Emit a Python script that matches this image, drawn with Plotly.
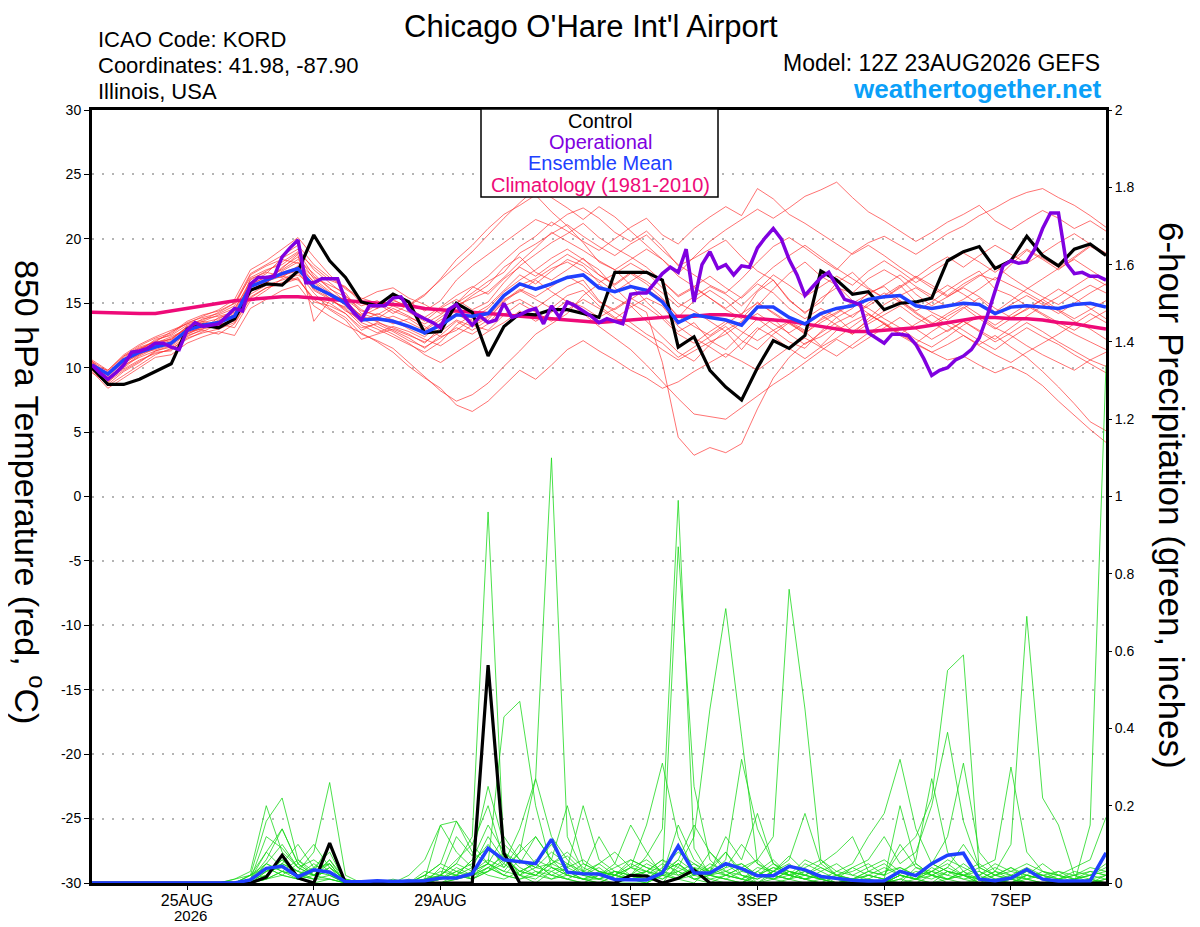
import pandas as pd
import plotly.graph_objects as go

# =====================================================================
# 1. DATA (read off the GEFS plume for KORD, 12Z 23AUG2026)
# =====================================================================
run_start = "2026-08-23 12:00"
times = pd.date_range(run_start, periods=65, freq="6h")      # ensemble, 6-hourly
op_times = pd.date_range(run_start, periods=129, freq="3h")  # operational, 3-hourly

tick_dates = ["2026-08-25", "2026-08-27", "2026-08-29", "2026-09-01",
              "2026-09-03", "2026-09-05", "2026-09-07"]
tick_labels = ["25AUG", "27AUG", "29AUG", "1SEP", "3SEP", "5SEP", "7SEP"]
year_label = "2026"
temp_ticks = [-30, -25, -20, -15, -10, -5, 0, 5, 10, 15, 20, 25, 30]
temp_tick_labels = ["-30", "-25", "-20", "-15", "-10", "-5", "0", "5", "10", "15", "20", "25", "30"]
precip_ticks = [0, 0.2, 0.4, 0.6, 0.8, 1.0, 1.2, 1.4, 1.6, 1.8, 2.0]
precip_tick_labels = ["0", "0.2", "0.4", "0.6", "0.8", "1", "1.2", "1.4", "1.6", "1.8", "2"]

# 850 hPa temperature (C)
control_temp = [10.0, 8.7, 8.7, 9.1, 9.7, 10.3, 13.0, 13.3, 13.1, 13.8,
                16.0, 16.5, 16.4, 17.5, 20.3, 18.3, 17.0, 15.1, 14.8, 15.7,
                15.1, 12.7, 12.8, 15.0, 14.3, 10.9, 13.2, 14.2, 14.1, 14.5,
                14.5, 14.2, 13.9, 17.4, 17.4, 17.4, 16.8, 11.6, 12.4, 9.8,
                8.5, 7.5, 10.0, 12.1, 11.5, 12.5, 17.5, 16.8, 15.7, 15.9,
                14.5, 15.0, 15.1, 15.4, 18.3, 19.0, 19.4, 17.7, 18.3, 20.2,
                18.7, 17.9, 19.2, 19.6, 18.7]
mean_temp = [10.2, 9.5, 10.6, 11.2, 11.6, 11.9, 12.9, 13.3, 13.5, 14.0,
             16.3, 16.8, 17.3, 17.7, 16.3, 15.7, 15.0, 13.7, 13.8, 13.6,
             13.2, 12.7, 13.3, 14.1, 14.0, 14.2, 15.6, 16.5, 16.1, 16.5,
             17.0, 17.2, 16.2, 15.9, 16.3, 16.0, 15.1, 13.5, 14.1, 13.9,
             13.7, 13.3, 14.7, 14.7, 13.9, 13.4, 14.2, 14.6, 14.8, 15.3,
             15.5, 15.6, 14.8, 14.6, 14.8, 15.0, 14.9, 14.2, 14.7, 14.8,
             14.7, 14.6, 14.9, 15.0, 14.7]
clim_temp = [14.3, 14.25, 14.2, 14.2, 14.2, 14.4, 14.6, 14.8, 15.0, 15.2,
             15.3, 15.4, 15.5, 15.5, 15.4, 15.3, 15.2, 15.1, 15.0, 14.9,
             14.8, 14.6, 14.5, 14.4, 14.3, 14.2, 14.1, 14.0, 13.9, 13.8,
             13.7, 13.6, 13.5, 13.6, 13.7, 13.8, 13.9, 14.0, 14.0, 14.1,
             14.1, 14.0, 13.8, 13.7, 13.6, 13.4, 13.2, 13.0, 12.8, 12.8,
             12.9, 13.0, 13.1, 13.3, 13.5, 13.7, 13.9, 13.9, 13.8, 13.8,
             13.7, 13.5, 13.4, 13.2, 13.0]
op_temp = [10.2, 9.6, 9.1, 9.6, 10.2, 11.2, 11.3, 11.5, 11.9, 11.9,
           11.6, 11.4, 12.9, 13.5, 13.2, 13.3, 13.4, 14.0, 14.6, 14.4,
           16.5, 17.0, 17.0, 17.1, 18.6, 19.3, 19.9, 16.6, 16.6, 16.9,
           16.9, 16.9, 15.2, 14.3, 13.7, 14.8, 14.8, 14.8, 15.4, 15.5,
           14.5, 14.1, 13.8, 13.5, 13.1, 14.5, 14.9, 14.0, 13.3, 14.0,
           13.5, 13.7, 15.0, 13.9, 14.1, 14.4, 14.6, 13.4, 14.8, 13.9,
           15.1, 14.8, 14.4, 14.0, 13.5, 13.8, 13.6, 13.4, 15.7, 15.8,
           15.8, 16.6, 17.3, 17.8, 17.4, 19.2, 15.1, 18.0, 19.0, 17.7,
           18.0, 17.2, 17.9, 17.8, 19.3, 20.1, 20.8, 20.0, 18.4, 17.2,
           15.6, 16.3, 17.0, 17.4, 16.4, 15.3, 15.1, 14.9, 12.7, 12.3,
           11.9, 12.6, 12.6, 12.5, 11.8, 10.7, 9.4, 9.8, 10.0, 10.6,
           10.9, 11.4, 12.3, 14.0, 16.0, 17.9, 18.3, 18.1, 18.2, 19.2,
           20.8, 22.0, 22.0, 18.1, 17.3, 17.4, 17.1, 17.1, 16.8]

# ensemble members, temperature
member_t01 = [10.4, 9.2, 10.1, 11.0, 11.9, 12.4, 13.0, 13.6, 13.2, 14.5, 16.8, 17.5, 18.2, 19.0, 17.1,
              16.2, 15.1, 14.0, 14.6, 15.2, 14.8, 15.6, 16.9, 18.4, 19.5, 20.8, 21.9, 22.6, 23.4, 22.1,
              21.0, 19.7, 18.2, 17.6, 16.4, 15.1, 14.0, 12.8, 13.5, 12.1, 11.4, 12.6, 13.8, 12.9, 12.0,
              11.5, 12.8, 13.9, 14.6, 15.8, 16.3, 15.2, 14.4, 15.1, 16.0, 16.8, 17.5, 16.1, 15.6, 14.8,
              14.1, 13.3, 12.6, 12.0, 11.4]
member_t02 = [9.8, 8.6, 9.4, 10.2, 11.0, 11.5, 12.2, 12.8, 13.4, 13.1, 15.2, 16.0, 16.9, 17.4, 15.8,
              14.6, 13.9, 12.6, 12.1, 11.5, 10.4, 9.3, 8.2, 7.4, 7.9, 8.8, 10.1, 11.3, 12.6, 13.4,
              14.2, 15.6, 16.5, 15.4, 14.8, 13.6, 12.4, 11.2, 10.5, 11.8, 12.9, 13.6, 14.8, 16.1, 17.3,
              18.2, 17.1, 16.4, 15.2, 14.6, 13.8, 13.1, 12.2, 11.6, 12.4, 13.3, 14.0, 13.1, 12.5, 11.7,
              11.0, 10.4, 9.8, 10.6, 11.2]
member_t03 = [10.1, 9.0, 10.3, 11.4, 12.1, 12.6, 13.5, 13.9, 14.2, 14.8, 17.2, 17.9, 18.4, 18.1, 17.0,
              16.4, 15.8, 14.2, 13.8, 14.6, 14.0, 13.2, 12.4, 12.9, 13.8, 14.6, 15.9, 16.8, 17.6, 18.5,
              19.2, 18.4, 17.6, 16.2, 15.0, 14.3, 10.4, 4.6, 3.2, 3.8, 3.4, 4.1, 6.8, 9.2, 10.8,
              11.9, 12.4, 13.2, 12.6, 13.8, 14.9, 15.6, 16.2, 15.4, 14.7, 15.3, 16.1, 17.0, 16.4, 15.8,
              15.1, 14.4, 13.6, 13.0, 12.2]
member_t04 = [10.6, 9.8, 11.0, 11.8, 12.4, 12.9, 13.4, 14.0, 14.5, 15.3, 17.6, 18.3, 19.2, 20.1, 18.6,
              17.2, 16.1, 15.3, 15.9, 16.2, 15.4, 14.9, 14.2, 15.0, 15.8, 16.7, 17.4, 18.9, 19.6, 20.4,
              21.1, 20.2, 19.4, 18.7, 19.6, 20.3, 19.1, 18.0, 17.2, 16.4, 15.8, 16.9, 18.2, 19.4, 20.1,
              19.3, 18.4, 17.6, 18.9, 19.7, 20.2, 19.5, 18.8, 19.6, 20.4, 21.0, 21.8, 22.4, 23.1, 23.6,
              23.9, 23.2, 22.6, 21.8, 20.9]
member_t05 = [9.9, 8.9, 9.8, 10.5, 11.2, 11.3, 12.5, 12.9, 12.6, 13.4, 15.4, 16.2, 16.6, 17.0, 15.1,
              14.8, 14.2, 13.1, 13.4, 12.8, 12.1, 11.6, 12.3, 13.1, 12.6, 13.4, 14.8, 15.3, 14.6, 15.5,
              16.3, 16.8, 15.2, 14.3, 13.5, 12.6, 11.9, 10.8, 11.6, 12.4, 13.2, 12.1, 11.4, 12.6, 13.5,
              12.8, 11.7, 12.9, 13.6, 14.2, 13.4, 12.5, 11.8, 11.2, 10.6, 10.9, 10.2, 9.6, 10.1, 9.5,
              8.6, 7.4, 6.3, 5.2, 4.2]
member_t06 = [10.3, 9.6, 10.8, 11.6, 12.0, 12.2, 13.1, 13.8, 14.0, 14.3, 16.0, 16.5, 17.8, 18.6, 16.9,
              15.9, 14.8, 14.1, 14.9, 15.6, 15.1, 14.4, 15.2, 16.8, 17.9, 18.8, 19.7, 20.6, 21.5, 21.0,
              21.9, 22.4, 21.6, 20.5, 19.8, 20.6, 19.4, 17.9, 18.5, 19.2, 19.9, 18.6, 17.5, 16.8, 15.2,
              14.3, 15.1, 16.6, 17.4, 16.2, 15.4, 16.3, 17.1, 16.4, 15.6, 16.5, 17.2, 16.8, 18.0, 19.1,
              18.4, 17.6, 18.5, 19.4, 18.8]
member_t07 = [10.0, 9.3, 10.5, 11.1, 11.4, 11.8, 12.7, 13.2, 13.6, 13.9, 16.4, 17.1, 17.0, 17.9, 16.0,
              15.3, 14.6, 13.5, 13.0, 12.4, 11.8, 11.2, 12.0, 13.3, 14.1, 14.8, 16.0, 17.2, 16.5, 17.5,
              18.4, 17.9, 16.6, 17.3, 18.1, 17.4, 16.2, 15.0, 14.4, 13.6, 12.8, 11.4, 12.9, 13.8, 12.6,
              11.8, 12.7, 13.5, 14.1, 14.8, 15.6, 16.4, 15.1, 14.3, 13.7, 14.6, 15.4, 14.3, 15.2, 16.1,
              16.9, 17.7, 18.4, 17.6, 16.8]
member_t08 = [10.5, 9.7, 10.9, 11.5, 11.8, 12.1, 13.2, 13.4, 13.1, 13.8, 16.9, 17.4, 17.1, 16.8, 15.4,
              15.0, 14.2, 12.9, 13.5, 13.1, 12.6, 11.9, 13.1, 14.7, 15.6, 16.4, 17.8, 18.6, 17.4, 16.8,
              17.6, 18.5, 17.2, 16.4, 17.3, 16.5, 15.4, 13.9, 15.2, 16.0, 15.2, 14.1, 15.9, 16.8, 15.3,
              14.2, 15.4, 16.2, 15.8, 16.9, 17.6, 16.9, 15.7, 14.8, 15.5, 16.2, 15.5, 14.6, 13.9, 14.5,
              15.3, 16.1, 15.4, 14.6, 13.8]
member_t09 = [10.2, 9.4, 10.4, 11.3, 12.2, 12.5, 13.3, 13.6, 14.1, 14.6, 16.6, 17.3, 18.5, 19.2, 17.6,
              16.6, 15.6, 14.5, 14.0, 13.4, 13.8, 13.0, 13.9, 14.8, 15.4, 15.9, 17.0, 18.2, 19.3, 20.5,
              19.8, 19.1, 18.3, 17.6, 18.4, 19.2, 18.4, 17.3, 18.6, 19.8, 20.7, 21.5, 22.3, 21.6, 22.4,
              23.3, 23.8, 24.4, 23.2, 22.1, 21.4, 20.6, 19.8, 20.5, 21.3, 21.9, 22.6, 21.4, 20.7, 21.5,
              22.2, 21.6, 20.8, 21.4, 20.6]
member_t10 = [9.7, 8.4, 9.2, 10.0, 10.8, 11.0, 11.9, 12.4, 12.8, 12.5, 14.6, 15.3, 16.0, 16.4, 14.8,
              14.0, 13.3, 12.7, 12.0, 11.2, 10.1, 9.2, 8.4, 7.1, 6.6, 7.4, 8.6, 9.8, 9.1, 10.2,
              11.4, 12.1, 11.3, 10.6, 9.8, 9.2, 8.4, 8.9, 9.7, 10.4, 11.1, 10.5, 9.8, 10.7, 11.6,
              12.3, 11.6, 10.9, 11.8, 12.7, 13.4, 12.6, 11.9, 12.8, 13.6, 12.9, 12.1, 11.4, 12.3, 13.1,
              12.4, 11.8, 11.0, 10.3, 9.6]
member_t11 = [10.3, 9.1, 10.0, 10.9, 11.5, 12.0, 12.8, 13.0, 13.9, 14.2, 16.1, 16.6, 17.5, 18.2, 16.6,
              15.6, 15.3, 14.4, 14.1, 14.8, 14.3, 13.6, 14.6, 15.3, 14.5, 15.1, 16.6, 17.9, 18.8, 19.7,
              20.4, 21.2, 20.1, 19.3, 18.6, 17.8, 16.7, 15.6, 16.3, 17.1, 16.2, 15.4, 16.5, 15.8, 14.6,
              13.8, 14.6, 13.9, 12.8, 13.6, 14.4, 15.2, 14.3, 13.5, 12.8, 13.6, 12.9, 12.2, 13.1, 14.0,
              14.8, 15.5, 16.3, 17.1, 16.4]
member_t12 = [9.6, 8.8, 10.2, 10.8, 11.3, 11.6, 12.4, 13.0, 13.3, 13.7, 15.7, 16.4, 16.8, 17.2, 16.4,
              15.4, 14.5, 13.3, 12.7, 13.2, 12.8, 12.2, 11.7, 12.5, 13.3, 12.9, 14.1, 15.0, 14.3, 13.6,
              14.5, 15.3, 14.6, 13.8, 14.7, 15.4, 14.8, 13.2, 12.3, 11.6, 10.8, 11.9, 13.1, 12.4, 11.5,
              10.7, 11.6, 12.3, 13.2, 14.1, 13.5, 12.7, 11.9, 11.2, 11.8, 12.5, 11.7, 11.0, 10.4, 11.2,
              11.9, 12.6, 13.4, 14.2, 13.5]
member_t13 = [10.4, 9.5, 10.7, 11.4, 11.7, 12.3, 13.0, 13.5, 13.8, 14.4, 16.5, 17.0, 17.6, 18.4, 17.3,
              16.1, 15.5, 14.8, 15.2, 14.4, 13.9, 13.4, 14.1, 15.0, 16.2, 17.1, 18.3, 19.4, 20.2, 21.3,
              20.6, 19.8, 19.1, 20.0, 20.9, 21.6, 20.3, 19.6, 20.8, 21.7, 22.5, 21.8, 23.9, 23.1, 21.9,
              21.2, 20.4, 19.6, 18.8, 19.5, 18.7, 17.8, 17.0, 17.9, 18.6, 17.8, 18.7, 19.5, 18.8, 18.1,
              18.9, 19.7, 20.4, 19.6, 18.9]
member_t14 = [10.0, 9.0, 10.4, 11.0, 11.6, 11.9, 12.6, 13.1, 13.7, 14.1, 16.2, 16.9, 17.7, 18.8, 13.6,
              15.2, 14.7, 13.9, 13.6, 12.9, 12.3, 11.5, 12.5, 13.6, 12.9, 13.7, 15.2, 16.1, 15.5, 16.3,
              17.1, 16.4, 15.1, 14.5, 15.3, 16.1, 15.3, 14.0, 13.2, 12.5, 13.4, 14.2, 15.0, 14.3, 13.5,
              12.6, 13.8, 14.6, 13.9, 15.0, 15.8, 15.1, 14.2, 13.4, 14.2, 14.9, 14.1, 13.3, 14.1, 14.9,
              14.2, 13.5, 12.9, 13.7, 14.4]
member_t15 = [10.1, 9.6, 10.6, 11.2, 11.9, 12.2, 13.2, 13.3, 13.6, 14.0, 16.0, 16.7, 17.1, 17.6, 16.1,
              15.4, 14.4, 13.8, 13.2, 12.6, 11.9, 11.0, 10.4, 11.2, 12.0, 12.8, 13.5, 14.4, 13.6, 14.3,
              15.2, 14.7, 13.9, 14.6, 15.4, 14.7, 13.8, 12.6, 11.9, 12.8, 13.6, 12.8, 12.1, 12.9, 13.6,
              12.9, 13.7, 14.3, 15.1, 14.2, 13.4, 12.6, 13.4, 14.1, 13.3, 12.5, 11.8, 12.5, 11.6, 10.8,
              9.7, 8.5, 7.2, 5.8, 5.1]
member_t16 = [10.2, 9.8, 10.9, 11.7, 12.3, 12.7, 13.6, 14.1, 14.4, 15.0, 17.0, 17.6, 18.0, 18.9, 17.8,
              16.8, 16.3, 15.0, 14.6, 15.3, 14.6, 13.9, 14.7, 15.6, 16.3, 15.7, 16.9, 17.8, 17.1, 18.0,
              18.8, 18.1, 17.2, 16.5, 17.4, 16.7, 15.8, 14.7, 15.5, 16.3, 15.7, 14.8, 16.0, 17.2, 16.4,
              15.5, 16.3, 17.1, 16.4, 17.5, 18.3, 17.5, 16.6, 17.4, 18.2, 18.9, 18.2, 17.4, 18.3, 19.2,
              18.5, 17.8, 18.6, 19.5, 18.7]
member_t17 = [9.8, 9.1, 9.9, 10.6, 11.1, 11.4, 12.3, 12.7, 13.0, 13.5, 15.5, 16.2, 16.5, 16.9, 15.3,
              14.5, 13.7, 12.2, 12.6, 13.0, 12.5, 12.0, 12.8, 13.7, 13.2, 13.9, 15.1, 16.0, 15.3, 14.6,
              15.6, 16.0, 14.8, 13.9, 13.1, 12.3, 11.4, 10.6, 11.3, 12.0, 12.6, 13.5, 14.2, 13.4, 12.7,
              13.5, 14.1, 13.3, 12.6, 13.4, 14.1, 14.8, 13.9, 13.2, 14.0, 14.7, 13.8, 13.0, 13.8, 14.6,
              15.3, 14.5, 13.8, 14.5, 15.2]
member_t18 = [10.5, 9.4, 10.6, 11.5, 12.0, 12.8, 13.4, 13.7, 14.3, 15.0, 17.3, 18.0, 18.7, 19.5, 18.0,
              17.0, 16.2, 15.4, 15.0, 14.2, 14.9, 15.7, 16.8, 17.9, 19.0, 20.3, 21.6, 22.8, 23.9, 23.2,
              22.4, 21.5, 22.5, 21.7, 20.6, 19.5, 18.4, 17.1, 16.3, 15.4, 14.6, 15.5, 16.7, 17.8, 18.7,
              19.5, 18.6, 17.7, 16.9, 16.1, 15.4, 16.2, 17.0, 16.2, 15.5, 16.3, 17.1, 17.9, 17.0, 16.2,
              15.5, 14.9, 15.7, 16.4, 15.8]
member_t19 = [9.9, 8.7, 9.7, 10.4, 11.3, 11.7, 12.6, 13.2, 13.4, 13.6, 15.9, 16.6, 17.4, 17.8, 16.7,
              15.8, 15.2, 14.0, 13.6, 14.0, 13.5, 12.9, 13.7, 14.4, 13.6, 14.2, 15.5, 16.4, 16.9, 17.7,
              18.2, 17.5, 16.8, 15.9, 16.7, 17.5, 16.7, 15.5, 16.2, 15.4, 14.5, 13.8, 15.1, 14.2, 13.4,
              12.7, 13.5, 14.2, 15.0, 15.7, 16.4, 17.2, 16.3, 15.6, 16.4, 15.7, 14.9, 14.1, 14.9, 15.6,
              14.9, 14.2, 15.0, 15.8, 16.5]
member_t20 = [10.2, 9.2, 10.3, 11.1, 11.6, 12.0, 13.0, 13.4, 13.5, 14.1, 16.2, 16.9, 17.2, 17.5, 16.2,
              15.6, 14.9, 13.6, 14.2, 13.7, 13.0, 12.4, 13.5, 14.2, 13.4, 14.0, 15.3, 15.9, 16.8, 15.9,
              15.1, 14.2, 13.2, 12.3, 11.4, 10.2, 8.9, 7.6, 6.4, 6.2, 6.0, 6.9, 7.8, 8.7, 9.5,
              10.4, 11.3, 12.2, 11.5, 12.3, 13.1, 13.9, 13.0, 12.2, 12.9, 13.6, 12.8, 12.0, 12.7, 13.5,
              12.8, 12.0, 11.3, 10.6, 10.1]

# 6-hour precipitation (inches)
control_precip = [0, 0, 0, 0, 0, 0, 0, 0, 0, 0,
                  0, 0.015, 0.072, 0.013, 0, 0.103, 0, 0, 0, 0,
                  0, 0, 0, 0, 0, 0.564, 0.077, 0, 0, 0,
                  0, 0, 0, 0, 0.02, 0.018, 0, 0.012, 0.034, 0,
                  0, 0, 0, 0, 0, 0, 0, 0, 0, 0,
                  0, 0, 0, 0, 0, 0, 0, 0, 0, 0,
                  0, 0, 0, 0, 0]
mean_precip = [0, 0, 0, 0, 0, 0, 0, 0, 0, 0,
               0.008, 0.038, 0.043, 0.016, 0.034, 0.028, 0.003, 0.003, 0.006, 0.004,
               0.005, 0.006, 0.013, 0.013, 0.024, 0.09, 0.06, 0.056, 0.05, 0.113,
               0.028, 0.024, 0.023, 0.009, 0.009, 0.008, 0.026, 0.096, 0.026, 0.026,
               0.05, 0.037, 0.019, 0.019, 0.043, 0.034, 0.017, 0.012, 0.007, 0.005,
               0.006, 0.03, 0.019, 0.05, 0.072, 0.077, 0.01, 0.006, 0.013, 0.035,
               0.01, 0.005, 0.005, 0.006, 0.078]

member_p01 = [0, 0, 0, 0, 0, 0, 0, 0, 0, 0, 0, 0.03, 0.06, 0.02, 0.01, 0.04, 0, 0, 0, 0,
              0, 0, 0.02, 0.05, 0.12, 0.96, 0.08, 0.02, 0, 0.03, 0.01, 0, 0, 0.02, 0.01,
              0, 0.03, 0.05, 0.01, 0, 0.02, 0.04, 0, 0.01, 0, 0, 0.01, 0, 0, 0,
              0, 0.02, 0.01, 0.03, 0.05, 0.02, 0, 0, 0.01, 0, 0, 0, 0, 0.01, 0.02]
member_p02 = [0, 0, 0, 0, 0, 0, 0, 0, 0, 0, 0.01, 0.08, 0.14, 0.05, 0.02, 0.06, 0, 0, 0, 0,
              0, 0, 0, 0.01, 0.03, 0.05, 0.43, 0.47, 0.2, 0.04, 0.02, 0.01, 0, 0, 0.01,
              0.02, 0, 0.05, 0.02, 0.01, 0, 0, 0.03, 0.06, 0.02, 0.01, 0, 0, 0, 0.01,
              0, 0, 0.01, 0.04, 0.02, 0.01, 0, 0, 0, 0.01, 0, 0, 0, 0, 0]
member_p03 = [0, 0, 0, 0, 0, 0, 0, 0, 0, 0, 0, 0.02, 0.05, 0.03, 0.01, 0.02, 0, 0, 0, 0,
              0, 0.01, 0.03, 0.02, 0.06, 0.09, 0.05, 0.14, 0.27, 1.10, 0.12, 0.03, 0.01, 0, 0,
              0, 0.02, 0.01, 0, 0.04, 0.08, 0.02, 0, 0, 0.01, 0, 0, 0.02, 0.01, 0,
              0, 0.01, 0, 0.02, 0.01, 0.03, 0, 0, 0, 0.02, 0.01, 0, 0, 0, 0]
member_p04 = [0, 0, 0, 0, 0, 0, 0, 0, 0, 0.01, 0.02, 0.05, 0.03, 0.01, 0.02, 0.01, 0, 0, 0, 0,
              0, 0, 0.01, 0.04, 0.02, 0.05, 0.03, 0.08, 0.12, 0.06, 0.02, 0.05, 0.03, 0.01, 0.02,
              0.07, 0.14, 0.99, 0.09, 0.02, 0.01, 0, 0.02, 0.05, 0.03, 0.01, 0, 0, 0.01, 0,
              0, 0.03, 0.01, 0.02, 0, 0, 0.01, 0, 0.02, 0, 0, 0, 0, 0.01, 0]
member_p05 = [0, 0, 0, 0, 0, 0, 0, 0, 0, 0, 0, 0.03, 0.04, 0.02, 0.03, 0.1, 0, 0, 0, 0,
              0, 0, 0, 0.02, 0.01, 0.03, 0.06, 0.02, 0.04, 0.05, 0.08, 0.04, 0.02, 0.03, 0.01,
              0.03, 0.02, 0.87, 0.25, 0.06, 0.02, 0.01, 0, 0.03, 0.07, 0.03, 0.01, 0, 0, 0.02,
              0.01, 0, 0.04, 0.02, 0.01, 0, 0, 0.02, 0.04, 0.01, 0, 0, 0, 0, 0.01]
member_p06 = [0, 0, 0, 0, 0, 0, 0, 0, 0, 0, 0.01, 0.05, 0.1, 0.04, 0.02, 0.03, 0, 0, 0, 0,
              0, 0.02, 0.05, 0.03, 0.01, 0.04, 0.02, 0.06, 0.03, 0.01, 0.02, 0.01, 0.03, 0.02, 0.05,
              0.03, 0.06, 0.04, 0.12, 0.45, 0.71, 0.38, 0.05, 0.02, 0.01, 0.03, 0.02, 0.01, 0, 0,
              0, 0.02, 0.01, 0, 0.03, 0.02, 0, 0.01, 0, 0, 0, 0.01, 0, 0, 0]
member_p07 = [0, 0, 0, 0, 0, 0, 0, 0, 0, 0, 0.02, 0.04, 0.02, 0.01, 0.03, 0.02, 0, 0, 0, 0,
              0, 0.01, 0.02, 0.01, 0.03, 0.05, 0.02, 0.01, 0.03, 0.02, 0.01, 0.03, 0.05, 0.02, 0.01,
              0.02, 0.01, 0.03, 0.05, 0.02, 0.01, 0.03, 0.06, 0.12, 0.76, 0.45, 0.06, 0.02, 0, 0.01,
              0, 0.02, 0.01, 0.03, 0.02, 0.05, 0.02, 0, 0.01, 0, 0, 0, 0.01, 0, 0]
member_p08 = [0, 0, 0, 0, 0, 0, 0, 0, 0, 0, 0, 0.01, 0.03, 0.02, 0.01, 0.01, 0, 0, 0, 0,
              0, 0, 0.01, 0.02, 0.04, 0.02, 0.01, 0.03, 0.05, 0.02, 0.01, 0, 0.02, 0.01, 0.04,
              0.02, 0.05, 0.03, 0.01, 0.02, 0.03, 0.01, 0, 0.02, 0.01, 0.02, 0.01, 0, 0.01, 0.03,
              0.02, 0.08, 0.12, 0.22, 0.55, 0.59, 0.03, 0.01, 0, 0.02, 0.01, 0, 0, 0, 0.01]
member_p09 = [0, 0, 0, 0, 0, 0, 0, 0, 0, 0, 0.01, 0.02, 0.05, 0.03, 0.02, 0.05, 0, 0, 0, 0,
              0, 0, 0.01, 0.02, 0.01, 0.03, 0.05, 0.02, 0.01, 0.04, 0.02, 0.01, 0.01, 0.03, 0.02,
              0.01, 0.03, 0.02, 0.04, 0.01, 0.02, 0.01, 0.03, 0.01, 0.02, 0.01, 0.02, 0.01, 0, 0.01,
              0, 0.01, 0.03, 0.02, 0.04, 0.02, 0.01, 0.03, 0.1, 0.69, 0.22, 0.15, 0.02, 0.01, 0]
member_p10 = [0, 0, 0, 0, 0, 0, 0, 0, 0, 0, 0, 0.01, 0.02, 0.01, 0, 0.01, 0, 0, 0, 0,
              0, 0, 0, 0.01, 0.02, 0.04, 0.02, 0.01, 0.02, 0.01, 0.03, 0.01, 0, 0.02, 0.01,
              0, 0.02, 0.01, 0.03, 0.02, 0.01, 0, 0.02, 0.01, 0.03, 0.02, 0.01, 0, 0.01, 0,
              0, 0.02, 0.01, 0, 0.01, 0.02, 0.01, 0, 0.01, 0, 0, 0.01, 0, 0.15, 1.34]
member_p11 = [0, 0, 0, 0, 0, 0, 0, 0, 0, 0.01, 0.03, 0.2, 0.08, 0.04, 0.02, 0.06, 0.01, 0, 0, 0,
              0, 0, 0.02, 0.05, 0.03, 0.06, 0.04, 0.1, 0.05, 0.02, 0.04, 0.02, 0.05, 0.08, 0.04,
              0.15, 0.31, 0.12, 0.03, 0.02, 0.06, 0.32, 0.14, 0.05, 0.02, 0.01, 0.02, 0, 0.01, 0.02,
              0.04, 0.02, 0.01, 0.05, 0.03, 0.01, 0.02, 0.04, 0.02, 0.01, 0.02, 0, 0.01, 0.02, 0.05]
member_p12 = [0, 0, 0, 0, 0, 0, 0, 0, 0, 0, 0.02, 0.16, 0.22, 0.06, 0.03, 0.05, 0, 0, 0, 0,
              0, 0.01, 0.15, 0.08, 0.04, 0.12, 0.06, 0.03, 0.02, 0.05, 0.03, 0.02, 0.04, 0.01, 0.02,
              0.03, 0.01, 0.04, 0.02, 0.05, 0.03, 0.02, 0.01, 0.03, 0.02, 0.04, 0.06, 0.03, 0.05, 0.12,
              0.18, 0.32, 0.14, 0.05, 0.03, 0.02, 0.01, 0.03, 0.01, 0.02, 0.01, 0.02, 0, 0.01, 0]
member_p13 = [0, 0, 0, 0, 0, 0, 0, 0, 0, 0, 0.01, 0.06, 0.14, 0.05, 0.02, 0.03, 0, 0, 0, 0,
              0, 0.02, 0.05, 0.16, 0.08, 0.05, 0.12, 0.06, 0.04, 0.08, 0.05, 0.03, 0.02, 0.04, 0.06,
              0.04, 0.02, 0.06, 0.03, 0.02, 0.04, 0.05, 0.02, 0.01, 0.03, 0.02, 0.05, 0.08, 0.12, 0.03,
              0.05, 0.02, 0.06, 0.27, 0.08, 0.03, 0.01, 0.02, 0.04, 0.02, 0.01, 0.03, 0.02, 0, 0.02]
member_p14 = [0, 0, 0, 0, 0, 0, 0, 0, 0, 0, 0, 0.02, 0.06, 0.03, 0.08, 0.26, 0.02, 0, 0, 0,
              0, 0, 0.01, 0.03, 0.05, 0.1, 0.04, 0.08, 0.27, 0.12, 0.06, 0.02, 0.01, 0.03, 0.02,
              0.01, 0.04, 0.08, 0.05, 0.03, 0.12, 0.06, 0.18, 0.05, 0.02, 0.03, 0.01, 0.02, 0.04, 0.02,
              0.01, 0.2, 0.05, 0.02, 0.01, 0.03, 0.05, 0.02, 0.01, 0.03, 0.02, 0.01, 0.03, 0.02, 0.01]
member_p15 = [0, 0, 0, 0, 0, 0, 0, 0, 0, 0, 0.01, 0.04, 0.02, 0.05, 0.1, 0.04, 0.01, 0, 0, 0,
              0, 0.01, 0.02, 0.01, 0.02, 0.03, 0.08, 0.04, 0.02, 0.06, 0.2, 0.05, 0.03, 0.02, 0.04,
              0.06, 0.03, 0.01, 0.02, 0.04, 0.02, 0.01, 0.04, 0.03, 0.05, 0.02, 0.04, 0.02, 0.01, 0.02,
              0.01, 0.03, 0.05, 0.02, 0.04, 0.1, 0.04, 0.02, 0.03, 0.05, 0.03, 0.02, 0.04, 0.06, 0.17]
member_p16 = [0, 0, 0, 0, 0, 0, 0, 0, 0, 0, 0, 0.01, 0.03, 0.02, 0.05, 0.02, 0, 0, 0, 0,
              0.02, 0.06, 0.15, 0.16, 0.1, 0.05, 0.03, 0.02, 0.06, 0.04, 0.03, 0.01, 0.02, 0.05, 0.15,
              0.08, 0.02, 0.03, 0.01, 0.02, 0.05, 0.02, 0.01, 0.03, 0.06, 0.18, 0.05, 0.02, 0.01, 0.03,
              0.02, 0.04, 0.02, 0.03, 0.01, 0.02, 0.03, 0.01, 0.02, 0.04, 0.02, 0.01, 0.02, 0.03, 0.02]
member_p17 = [0, 0, 0, 0, 0, 0, 0, 0, 0, 0, 0.01, 0.12, 0.09, 0.04, 0.06, 0.03, 0, 0, 0, 0,
              0, 0, 0.04, 0.02, 0.06, 0.15, 0.08, 0.05, 0.12, 0.06, 0.04, 0.2, 0.06, 0.03, 0.02,
              0.05, 0.03, 0.06, 0.15, 0.08, 0.03, 0.05, 0.02, 0.04, 0.02, 0.01, 0.03, 0.05, 0.02, 0.04,
              0.06, 0.03, 0.02, 0.05, 0.12, 0.31, 0.08, 0.03, 0.02, 0.01, 0.03, 0.02, 0.01, 0.02, 0.03]
member_p18 = [0, 0, 0, 0, 0, 0, 0, 0, 0, 0, 0.01, 0.03, 0.05, 0.1, 0.04, 0.08, 0, 0, 0, 0,
              0.01, 0, 0.02, 0.06, 0.1, 0.2, 0.06, 0.03, 0.02, 0.05, 0.07, 0.03, 0.12, 0.05, 0.02,
              0.03, 0.06, 0.02, 0.04, 0.03, 0.02, 0.04, 0.06, 0.02, 0.01, 0.05, 0.03, 0.01, 0.04, 0.06,
              0.12, 0.05, 0.08, 0.2, 0.39, 0.16, 0.04, 0.02, 0.01, 0.03, 0.02, 0.03, 0.01, 0.02, 0.04]
member_p19 = [0, 0, 0, 0, 0, 0, 0, 0, 0, 0, 0.02, 0.08, 0.04, 0.02, 0.04, 0.05, 0, 0, 0, 0,
              0, 0.03, 0.02, 0.12, 0.07, 0.25, 0.1, 0.06, 0.04, 0.03, 0.05, 0.02, 0.01, 0.02, 0.04,
              0.03, 0.02, 0.15, 0.06, 0.03, 0.08, 0.03, 0.02, 0.04, 0.03, 0.02, 0.01, 0.03, 0.02, 0.01,
              0.03, 0.04, 0.02, 0.01, 0.03, 0.02, 0.04, 0.06, 0.3, 0.08, 0.03, 0.01, 0.02, 0.04, 0.03]
member_p20 = [0, 0, 0, 0, 0, 0, 0, 0, 0, 0, 0, 0.05, 0.03, 0.06, 0.02, 0.04, 0.01, 0, 0, 0.01,
              0, 0.02, 0.01, 0.03, 0.02, 0.04, 0.07, 0.03, 0.05, 0.1, 0.04, 0.06, 0.03, 0.02, 0.06,
              0.04, 0.03, 0.05, 0.02, 0.08, 0.04, 0.1, 0.05, 0.03, 0.02, 0.06, 0.04, 0.02, 0.03, 0.05,
              0.02, 0.1, 0.04, 0.03, 0.06, 0.04, 0.02, 0.05, 0.03, 0.02, 0.05, 0.02, 0.01, 0.03, 0.02]

members_temp = [member_t01, member_t02, member_t03, member_t04, member_t05,
                member_t06, member_t07, member_t08, member_t09, member_t10,
                member_t11, member_t12, member_t13, member_t14, member_t15,
                member_t16, member_t17, member_t18, member_t19, member_t20]
members_precip = [member_p01, member_p02, member_p03, member_p04, member_p05,
                  member_p06, member_p07, member_p08, member_p09, member_p10,
                  member_p11, member_p12, member_p13, member_p14, member_p15,
                  member_p16, member_p17, member_p18, member_p19, member_p20]

# =====================================================================
# 2. PLOT
# =====================================================================
FONT = "Liberation Sans, Arial, Helvetica, sans-serif"
RED = "rgba(255,45,45,0.75)"
GREEN = "rgba(20,215,20,0.85)"
PURPLE = "#8000E0"
BLUE = "#2040FF"
PINK = "#EE0A78"

# the page puts an 8px body margin round the figure, so the figure is
# drawn 8px smaller and everything below is given in page pixels
PAGE_OFF = 8
FIG_W, FIG_H = 1200 - PAGE_OFF, 927 - PAGE_OFF
# plot area in page pixels (left, top, right, bottom)
X0, Y0, X1, Y1 = 92, 110, 1106, 883


def px_x(x):
    return (x - X0) / (X1 - X0)


def px_y(y):
    return (Y1 - y) / (Y1 - Y0)


fig = go.Figure()

for m in members_temp:
    fig.add_trace(go.Scatter(x=times, y=m, mode="lines", yaxis="y",
                             line=dict(color=RED, width=0.9),
                             hoverinfo="skip", showlegend=False))
for m in members_precip:
    fig.add_trace(go.Scatter(x=times, y=m, mode="lines", yaxis="y2",
                             line=dict(color=GREEN, width=0.9),
                             hoverinfo="skip", showlegend=False))

fig.add_trace(go.Scatter(x=times, y=clim_temp, mode="lines", yaxis="y",
                         line=dict(color=PINK, width=3.5), showlegend=False))
fig.add_trace(go.Scatter(x=times, y=control_temp, mode="lines", yaxis="y",
                         line=dict(color="black", width=3.2), showlegend=False))
fig.add_trace(go.Scatter(x=times, y=mean_temp, mode="lines", yaxis="y",
                         line=dict(color=BLUE, width=3.5), showlegend=False))
fig.add_trace(go.Scatter(x=op_times, y=op_temp, mode="lines", yaxis="y",
                         line=dict(color=PURPLE, width=3.5), showlegend=False))
fig.add_trace(go.Scatter(x=times, y=control_precip, mode="lines", yaxis="y2",
                         line=dict(color="black", width=3.2), showlegend=False))
fig.add_trace(go.Scatter(x=times, y=mean_precip, mode="lines", yaxis="y2",
                         line=dict(color=BLUE, width=3.5), showlegend=False))

annotations = [
    dict(text="Chicago O'Hare Int'l Airport", x=px_x(591), y=px_y(26),
         xanchor="center", yanchor="middle", font=dict(size=31)),
    dict(text="ICAO Code: KORD", x=px_x(96), y=px_y(40),
         xanchor="left", yanchor="middle", font=dict(size=22)),
    dict(text="Coordinates: 41.98, -87.90", x=px_x(96), y=px_y(66),
         xanchor="left", yanchor="middle", font=dict(size=22)),
    dict(text="Illinois, USA", x=px_x(96), y=px_y(92),
         xanchor="left", yanchor="middle", font=dict(size=22)),
    dict(text="Model: 12Z 23AUG2026 GEFS", x=px_x(1102), y=px_y(63),
         xanchor="right", yanchor="middle", font=dict(size=23)),
    dict(text="<b>weathertogether.net</b>", x=px_x(1103), y=px_y(89),
         xanchor="right", yanchor="middle", font=dict(size=26, color="#0BA0F8")),
    # legend text
    dict(text="Control", x=px_x(600), y=px_y(121),
         xanchor="center", yanchor="middle", font=dict(size=20, color="black")),
    dict(text="Operational", x=px_x(600), y=px_y(142),
         xanchor="center", yanchor="middle", font=dict(size=20, color=PURPLE)),
    dict(text="Ensemble Mean", x=px_x(600), y=px_y(163),
         xanchor="center", yanchor="middle", font=dict(size=20, color=BLUE)),
    dict(text="Climatology (1981-2010)", x=px_x(600), y=px_y(185),
         xanchor="center", yanchor="middle", font=dict(size=20, color=PINK)),
    # year under the first date tick
    dict(text=year_label, x=px_x(190), y=px_y(915),
         xanchor="center", yanchor="middle", font=dict(size=15), borderpad=0),
    # axis titles, both read top to bottom
    dict(text="850 hPa Temperature (red, <sup>o</sup>C)", x=px_x(30), y=px_y(492),
         textangle=90, xanchor="center", yanchor="middle", font=dict(size=34)),
    dict(text="6-hour Precipitation (green, inches)", x=px_x(1172), y=px_y(495),
         textangle=90, xanchor="center", yanchor="middle", font=dict(size=35)),
]
for a in annotations:
    a.update(xref="paper", yref="paper", showarrow=False)

fig.update_layout(
    width=FIG_W,
    height=FIG_H,
    margin=dict(l=X0 - PAGE_OFF, r=FIG_W - (X1 - PAGE_OFF),
                t=Y0 - PAGE_OFF, b=FIG_H - (Y1 - PAGE_OFF), autoexpand=False),
    paper_bgcolor="white",
    plot_bgcolor="white",
    font=dict(family=FONT, color="black"),
    showlegend=False,
    hovermode=False,
    annotations=annotations,
    shapes=[dict(type="rect", xref="paper", yref="paper",
                 x0=px_x(481), x1=px_x(718), y0=px_y(197), y1=px_y(109),
                 line=dict(color="black", width=1.5), fillcolor="white", layer="above")],
    xaxis=dict(
        type="date",
        range=[times[0], times[-1]],
        tickvals=tick_dates,
        ticktext=tick_labels,
        tickfont=dict(size=16),
        ticks="outside", ticklen=4, tickwidth=1, tickcolor="black",
        ticklabelstandoff=-3,
        showgrid=False, zeroline=False, automargin=False,
        showline=True, linecolor="black", linewidth=3, mirror=True,
    ),
    yaxis=dict(
        range=[-30, 30],
        tickvals=temp_ticks,
        ticktext=temp_tick_labels,
        tickfont=dict(size=14),
        ticks="outside", ticklen=5, tickwidth=1, tickcolor="black",
        showgrid=True, gridcolor="#b4b4b4", gridwidth=1.5, griddash="2px,8px",
        zeroline=False, automargin=False,
        showline=True, linecolor="black", linewidth=3, mirror=True,
    ),
    yaxis2=dict(
        range=[0, 2],
        overlaying="y",
        side="right",
        tickvals=precip_ticks,
        ticktext=precip_tick_labels,
        tickfont=dict(size=14),
        ticks="outside", ticklen=5, tickwidth=1, tickcolor="black",
        showgrid=False, zeroline=False, showline=False, automargin=False,
    ),
)

fig.write_html("out.html")
